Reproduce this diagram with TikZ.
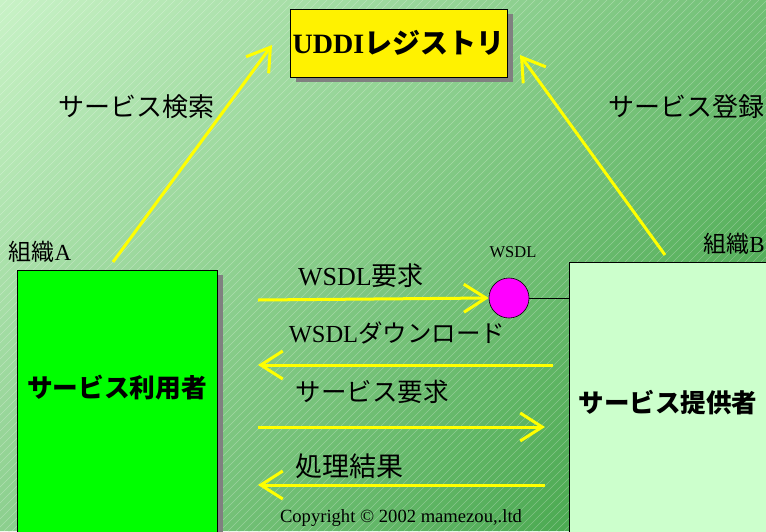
\documentclass[tikz,border=0pt]{standalone}
\usepackage{fontspec}
\setmainfont{Liberation Serif}
\newfontfamily\jp{Noto Sans CJK JP}
\usetikzlibrary{arrows.meta,shadows}
\definecolor{bgA}{RGB}{200,242,198}
\definecolor{bgB}{RGB}{52,156,60}
\definecolor{usergreen}{RGB}{0,255,0}
\definecolor{provgreen}{RGB}{204,255,204}
\definecolor{shadowgray}{RGB}{128,128,128}
\definecolor{wsdlmag}{RGB}{255,0,255}
\definecolor{arrowyellow}{RGB}{255,255,0}
\begin{document}
\begin{tikzpicture}[x=1pt,y=-1pt,
  yarrow/.style={draw=arrowyellow, line width=3pt, -{Straight Barb[length=22pt,width=28pt,line width=3pt]}},
  lbl/.style={inner sep=0pt, font=\fontsize{23}{23}\selectfont},
  jplbl/.style={inner sep=0pt, font=\fontsize{26}{26}\selectfont\jp},
  boldlbl/.style={inner sep=0pt, font=\fontsize{25.7}{26}\selectfont\jp\bfseries},
  shbox/.style={draw=black, line width=0.6pt, drop shadow={shadow xshift=6pt, shadow yshift=-5pt, fill=shadowgray, opacity=1}}
]
\useasboundingbox (0,0) rectangle (766,531);
\begin{scope}
  \clip (0,0) rectangle (766,531);
  \foreach \k in {0,...,130} {
    \pgfmathsetmacro{\s}{10*\k}
    \pgfmathsetmacro{\p}{min(100,100*\k/130)}
    \fill[bgB!\p!bgA] (\s-1,0) -- (\s+11,0) -- (\s+11-531,531) -- (\s-1-531,531) -- cycle;
  }
  \foreach \i in {-540,-532,...,780}
    \draw[white, opacity=0.28, line width=0.6pt] (\i,531) -- (\i+531,0);
\end{scope}

% UDDI registry
\node[shbox, fill=yellow, minimum width=217pt, minimum height=68pt, inner sep=0pt] (uddi) at (398.5,43)
  {\fontsize{28}{28}\selectfont\bfseries UDDI{\jp レジストリ}};

% organisations
\node[shbox, fill=usergreen, minimum width=200pt, minimum height=280pt, inner sep=0pt] (user) at (117,410) {};
\node[boldlbl] (usertext) at (117,388) {サービス利用者};
\node[draw=black, line width=0.6pt, fill=provgreen, minimum width=220pt, minimum height=280pt, anchor=north west, inner sep=0pt] (prov) at (569,262) {};
\node[boldlbl, font=\fontsize{25.5}{26}\selectfont\jp\bfseries] (provtext) at (668,403) {サービス提供者};

\node[lbl, font=\fontsize{23}{23}\selectfont] (orgA) at (40,252) {{\jp 組織}A};
\node[lbl, font=\fontsize{23}{23}\selectfont] (orgB) at (734,244) {{\jp 組織}B};

% WSDL
\node[circle, draw=black, line width=0.6pt, fill=wsdlmag, minimum size=40pt, inner sep=0pt] (wsdl) at (509,298) {};
\node[lbl, font=\fontsize{16.5}{16.5}\selectfont] (wsdllbl) at (513,252) {WSDL};
\draw[black, line width=0.6pt] (wsdl.east) -- (wsdl.east -| prov.west);

% search / register
\coordinate (srchS) at (113,262);
\coordinate (srchE) at (272,45);
\draw[yarrow] (srchS) -- (srchE);
\coordinate (regS) at (665,255);
\coordinate (regE) at (520,55);
\draw[yarrow] (regS) -- (regE);
\node[jplbl] (srchlbl) at (136,107) {サービス検索};
\node[jplbl] (reglbl) at (686,107) {サービス登録};

% messages
\coordinate (m1S) at (258,300);
\draw[yarrow] (m1S) -- (wsdl.west);
\node[lbl, font=\fontsize{26}{26}\selectfont] (m1lbl) at (361,276) {WSDL{\jp 要求}};

\coordinate (m2S) at (553,365);
\coordinate (m2E) at (258,365);
\draw[yarrow] (m2S) -- (m2E);
\node[lbl, font=\fontsize{24.5}{25}\selectfont] (m2lbl) at (397,333) {WSDL{\jp ダウンロード}};

\coordinate (m3S) at (258,427);
\coordinate (m3E) at (545,427);
\draw[yarrow] (m3S) -- (m3E);
\node[jplbl, font=\fontsize{25.5}{26}\selectfont\jp] (m3lbl) at (372,392) {サービス要求};

\coordinate (m4S) at (545,485);
\coordinate (m4E) at (258,485);
\draw[yarrow] (m4S) -- (m4E);
\node[jplbl, font=\fontsize{27}{27}\selectfont\jp] (m4lbl) at (349,466) {処理結果};

\node[lbl, font=\fontsize{18.6}{19}\selectfont] (copy) at (401,518) {Copyright © 2002 mamezou,.ltd};
\end{tikzpicture}
\end{document}
